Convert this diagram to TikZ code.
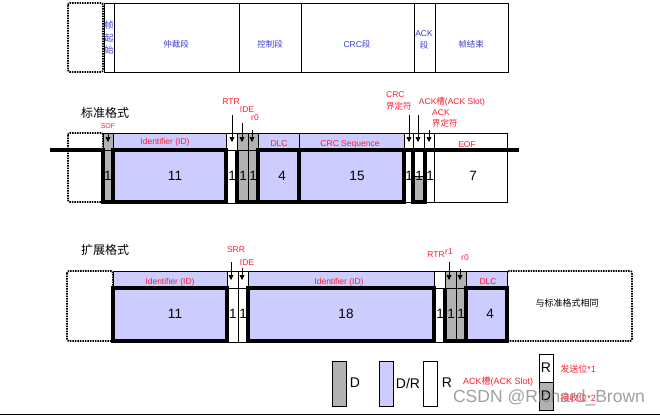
\documentclass[tikz,border=0pt]{standalone}
\usepackage{fontspec}
\setmainfont{Liberation Sans}
\newfontfamily\cjk{Noto Sans CJK SC}
\usetikzlibrary{arrows.meta}
\definecolor{lav}{RGB}{204,204,255}
\definecolor{gry}{RGB}{178,178,178}
\definecolor{lred}{RGB}{255,30,50}
\definecolor{lblue}{RGB}{60,60,210}
\newcommand{\fsz}[1]{\fontsize{#1}{#1}\selectfont}
\begin{document}
\begin{tikzpicture}[x=1pt,y=-1pt,
  thinl/.style={line width=0.8pt},
  thickl/.style={line width=3.2pt},
  dashbox/.style={draw, line width=1.7pt, dash pattern=on 1.5pt off 1pt, rounded corners=2pt},
  toplabel/.style={font=\cjk\fontsize{8.5}{12.5}\selectfont, text=lblue, inner sep=0, align=center},
  redlab/.style={font=\fsz{8.5}, text=lred, inner sep=0, align=center},
  reds/.style={font=\fsz{7}, text=lred, inner sep=0},
  num/.style={font=\fsz{13.5}, inner sep=0},
  title/.style={font=\cjk\fsz{12}, inner sep=0},
  arr/.style={-{Triangle[length=5pt,width=5pt]}, line width=0.8pt},
]
\useasboundingbox (0,0) rectangle (660,416);

%% ---------- top row ----------
\draw[dashbox] (68,3) rectangle (103,72);
\draw[line width=1pt] (104,3) rectangle (508,72);
\foreach \x in {114,239,301,414,435} \draw[line width=1pt] (\x,3) -- (\x,72);
\node[toplabel, font=\cjk\fontsize{9}{12.5}\selectfont] (t1) at (109,38) {帧\\起\\始};
\node[toplabel] (t2) at (176,44) {仲裁段};
\node[toplabel] (t3) at (270,44) {控制段};
\node[toplabel] (t4) at (357,44) {{\fontspec{Liberation Sans}CRC}段};
\node[toplabel] (t5) at (424,40) {{\fontspec{Liberation Sans}ACK}\\段};
\node[toplabel] (t6) at (471,44) {帧结束};

%% ---------- standard format ----------
\node[title] (stdT) at (105,113) {标准格式};
\draw[dashbox] (68,133) rectangle (103,202);
% fills
\fill[gry] (103,133) rectangle (113,202);
\fill[lav] (113,133) rectangle (226,202);
\fill[gry] (237,133) rectangle (258,202);
\fill[lav] (258,133) rectangle (404,202);
\fill[gry] (413,176) rectangle (425,202);
% thin lines
\draw[thinl] (103,133) rectangle (507,150);
\foreach \x in {113,226,237,248,258,299,404,413,424,434} \draw[thinl] (\x,133) -- (\x,150);
\draw[thinl] (226,150) rectangle (237,203);
\draw[thinl] (248,150) -- (248,202);
\draw[thinl] (404,202) -- (413,202);
\draw[thinl] (425,202) -- (434,202);
\draw[thinl] (434,150) rectangle (507,202);
\draw[thinl] (413,176) -- (425,176);
% thick waveform
\draw[thickl] (50,150) -- (103,150) -- (103,202) -- (113,202);
\draw[thickl] (113,150) rectangle (226,202);
\draw[thickl] (237,150) -- (237,202) -- (258,202);
\draw[thickl] (258,150) rectangle (299,202);
\draw[thickl] (299,150) rectangle (404,202);
\draw[thickl] (404,150) -- (519,150);
\draw[thickl] (413,150) rectangle (425,202);
% header labels
\node[redlab] (sid) at (165,142) {Identifier (ID)};
\node[redlab] (sdlc) at (279,144) {DLC};
\node[redlab] (scrc) at (350,144) {CRC Sequence};
\node[redlab] (seof) at (467,145) {EOF};
% numbers
\node[num] (n1) at (108,176) {1};
\node[num] (n2) at (175,176) {11};
\node[num] (n3) at (232,176) {1};
\node[num] (n4) at (243,176) {1};
\node[num] (n5) at (253,176) {1};
\node[num] (n6) at (282,176) {4};
\node[num] (n7) at (357,176) {15};
\node[num] (n8) at (409,176) {1};
\node[num] (n9) at (419,176) {1};
\node[num] (n10) at (430,176) {1};
\node[num] (n11) at (473,176) {7};
% annotations
\node[reds] (lsof) at (108,126) {SOF};
\coordinate (sofS) at (108,134); \coordinate (sofE) at (108,142);
\draw[arr] (sofS) -- (sofE);
\node[redlab] (lrtr) at (231,102) {RTR};
\coordinate (rtrS) at (232,115); \coordinate (rtrE) at (232,142);
\draw[arr] (rtrS) -- (rtrE);
\node[redlab] (lide) at (247,110) {IDE};
\coordinate (ideS) at (242,123); \coordinate (ideE) at (242,142);
\draw[arr] (ideS) -- (ideE);
\node[redlab] (lr0) at (255,118) {r0};
\coordinate (r0S) at (252,130); \coordinate (r0E) at (252,142);
\draw[arr] (r0S) -- (r0E);
\node[redlab, align=left, anchor=west, font=\fontsize{8.5}{12}\selectfont] (lcrcd) at (386,101) {CRC\\{\cjk 界定符}};
\coordinate (crcdS) at (409,115); \coordinate (crcdE) at (409,142);
\draw[arr] (crcdS) -- (crcdE);
\node[redlab] (lslot) at (452,102) {ACK{\cjk 槽}(ACK Slot)};
\coordinate (slotS) at (418,115); \coordinate (slotE) at (418,142);
\draw[arr] (slotS) -- (slotE);
\node[redlab, align=left, anchor=west, font=\fontsize{8.5}{11}\selectfont] (lackd) at (432,118.5) {ACK\\{\cjk 界定符}};
\coordinate (ackdS) at (429,130); \coordinate (ackdE) at (429,142);
\draw[arr] (ackdS) -- (ackdE);

%% ---------- extended format ----------
\node[title] (extT) at (105,250) {扩展格式};
\draw[dashbox] (67,271) rectangle (113,341);
\draw[dashbox] (507,271) rectangle (632,341);
\fill[lav] (113,271) rectangle (227,341);
\fill[lav] (248,271) rectangle (434,341);
\fill[gry] (445,271) rectangle (466,341);
\fill[lav] (466,271) rectangle (507,341);
\draw[thinl] (113,271) rectangle (507,288);
\foreach \x in {227,238,248,434,445,456,466} \draw[thinl] (\x,271) -- (\x,288);
\draw[thinl] (227,288) rectangle (248,342);
\draw[thinl] (238,288) -- (238,342);
\draw[thinl] (434,288) rectangle (445,342);
\draw[thinl] (456,288) -- (456,341);
\draw[thickl] (113,288) rectangle (227,341);
\draw[thickl] (248,288) rectangle (434,341);
\draw[thickl] (445,288) -- (445,341) -- (466,341);
\draw[thickl] (466,288) rectangle (507,341);
\node[redlab] (eid1) at (170,282) {Identifier (ID)};
\node[redlab] (eid2) at (339,282) {Identifier (ID)};
\node[redlab] (edlc) at (488,282) {DLC};
\node[num] (e1) at (175,314) {11};
\node[num] (e2) at (233,314) {1};
\node[num] (e3) at (243,314) {1};
\node[num] (e4) at (346,314) {18};
\node[num] (e5) at (440,314) {1};
\node[num] (e6) at (451,314) {1};
\node[num] (e7) at (461,314) {1};
\node[num] (e8) at (490,314) {4};
\node[font=\cjk\fsz{9}, inner sep=0] (same) at (567,303) {与标准格式相同};
\node[redlab] (lsrr) at (236,250) {SRR};
\coordinate (srrS) at (231,262); \coordinate (srrE) at (231,280);
\draw[arr] (srrS) -- (srrE);
\node[redlab] (lide2) at (247,263) {IDE};
\coordinate (ide2S) at (242,268); \coordinate (ide2E) at (242,280);
\draw[arr] (ide2S) -- (ide2E);
\node[redlab] (lrtr2) at (436,255) {RTR};
\node[redlab] (lr1) at (449,252) {r1};
\coordinate (r1S) at (449,262); \coordinate (r1E) at (449,280);
\draw[arr] (r1S) -- (r1E);
\node[redlab] (lr02) at (465,258) {r0};
\coordinate (r02S) at (460,269); \coordinate (r02E) at (460,280);
\draw[arr] (r02S) -- (r02E);

%% ---------- legend ----------
\draw[thinl, fill=gry] (332,361) rectangle (346,406);
\node[num, font=\fsz{14}] (lgD) at (355,383) {D};
\draw[thinl, fill=lav] (379,361) rectangle (393,406);
\node[num, font=\fsz{14}] (lgDR) at (408,383) {D/R};
\draw[thinl] (423,361) rectangle (437,406);
\node[num, font=\fsz{14}] (lgR) at (447,383) {R};
\node[redlab, font=\fsz{9}] (lgslot) at (498,382) {ACK{\cjk 槽}(ACK Slot)};
\draw[thinl] (539,354) rectangle (553,382);
\draw[thinl, fill=gry] (539,382) rectangle (553,410);
\node[num, font=\fsz{14}] (lgR2) at (546,368) {R};
\node[num, font=\fsz{14}] (lgD2) at (546,396) {D};
\node[redlab, font=\fsz{9}] (lgsend) at (578,369) {{\cjk 发送位}*1};
\node[redlab, font=\fsz{9}] (lgrecv) at (578,398) {{\cjk 接收位}*2};
\node[font=\fsz{17.5}, text=gray, opacity=0.75, inner sep=0] (wm) at (549,398) {CSDN @Richard\_Brown};
\draw[line width=1pt] (0,414.5) -- (660,414.5);
\end{tikzpicture}
\end{document}
